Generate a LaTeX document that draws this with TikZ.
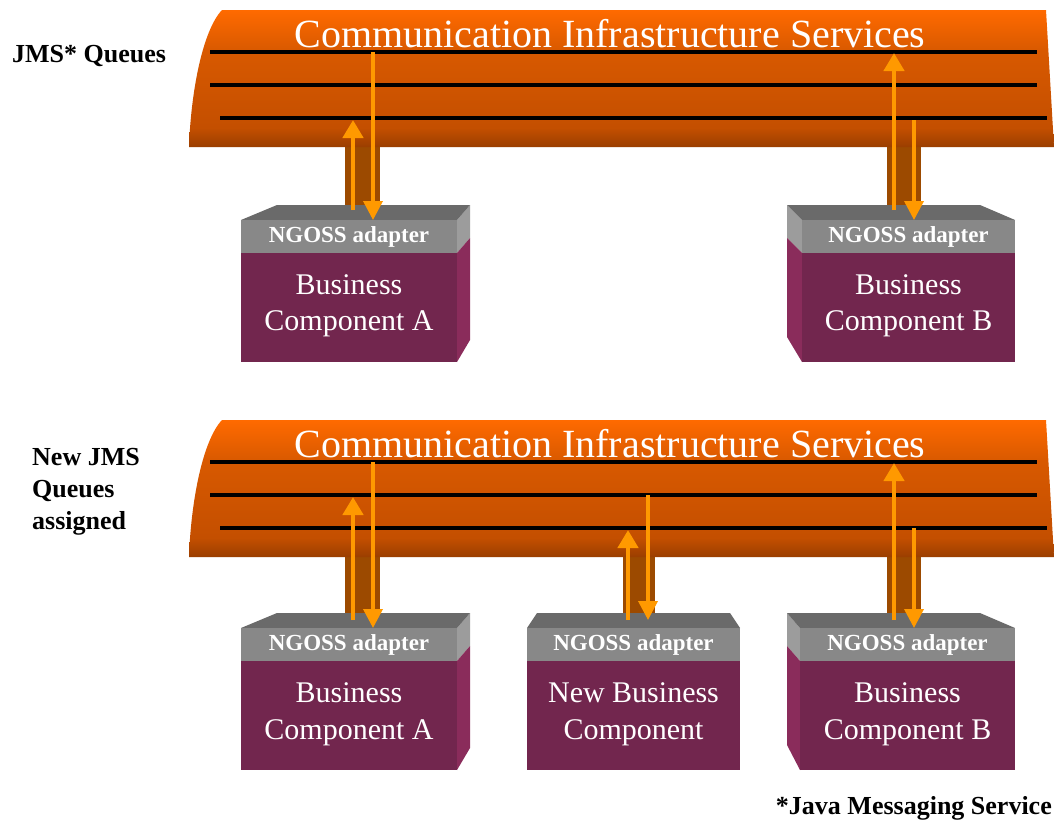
\documentclass[tikz,border=0pt]{standalone}
\usepackage{fontspec}
\setmainfont{Liberation Serif}
\usetikzlibrary{arrows.meta}

\definecolor{bustop}{HTML}{FF6A00}
\definecolor{busmid}{HTML}{D85900}
\definecolor{busdeep}{HTML}{C44F00}
\definecolor{busbot}{HTML}{9A3E00}
\definecolor{plum}{HTML}{72264E}
\definecolor{plumside}{HTML}{8A2C5B}
\definecolor{band}{HTML}{888888}
\definecolor{bandtop}{HTML}{6A6A6A}
\definecolor{bandside}{HTML}{9C9C9C}
\definecolor{flow}{HTML}{FF9900}
\definecolor{duct}{HTML}{9C4A00}

% vertical colour ramp of the service bus (25bp = bottom, 75bp = top)
\pgfdeclareverticalshading{busshade}{100bp}{%
  color(0bp)=(busbot); color(25bp)=(busbot); color(32bp)=(busdeep);
  color(60bp)=(busmid); color(75bp)=(bustop); color(100bp)=(bustop)}

\tikzset{
  queue/.style={line width=3.2pt, black},
  bustitle/.style={text=white, font=\fontsize{40}{44}\selectfont, anchor=base, inner sep=0pt},
  adaptertext/.style={text=white, font=\bfseries\fontsize{23}{26}\selectfont, inner sep=0pt},
  comptext/.style={text=white, font=\fontsize{30}{36.5}\selectfont, align=center, inner sep=0pt},
  sidelabel/.style={font=\bfseries\fontsize{26}{32}\selectfont, align=left, inner sep=0pt},
  ductfill/.style={fill=duct, draw=none},
  upflow/.style={draw=flow, line width=4.4pt, -{Triangle[width=20pt,length=18pt]}},
  downflow/.style={draw=flow, line width=3.6pt, -{Triangle[width=19pt,length=19pt]}},
}

% service bus: #1 vertical offset, #2 name
\newcommand\servicebus[2]{%
  \shade[shading=busshade]
    (189,{147+#1}) .. controls (191,{90+#1}) and (203,{30+#1}) .. (222,{10+#1})
    -- (1046,{10+#1}) -- (1054,{147+#1}) -- cycle;
  \draw[queue] (210,{52+#1}) -- (1037,{52+#1});
  \draw[queue] (210,{85+#1}) -- (1037,{85+#1});
  \draw[queue] (220,{118+#1}) -- (1047,{118+#1});
  \node[bustitle] (#2) at (610,{47+#1}) {Communication Infrastructure Services};
}

% component box front and top: #1 name, #2 left x, #3 right x, #4 front top y,
% #5 back-left offset, #6 back-right offset, #7 component text
\newcommand\component[7]{%
  \fill[bandtop] (#2,#4) -- ({#2+#5},{#4-15}) -- ({#3+#6},{#4-15}) -- (#3,#4) -- cycle;
  \fill[band] (#2,#4) rectangle (#3,{#4+33});
  \fill[plum] (#2,{#4+33}) rectangle (#3,{#4+142});
  \node[adaptertext] (#1-adapter) at ({(#2+#3)/2},{#4+17}) {NGOSS adapter};
  \node[comptext] (#1) at ({(#2+#3)/2},{#4+86}) {#7};
}
% visible side face: #1 front edge x, #2 back edge x, #3 front top y, #4 back bottom drop
\newcommand\sideface[4]{%
  \fill[bandside] (#1,#3) -- (#2,{#3-15}) -- (#2,{#3+18}) -- (#1,{#3+33}) -- cycle;
  \fill[plumside] (#1,{#3+33}) -- (#2,{#3+18}) -- (#2,{#3+#4}) -- (#1,{#3+142}) -- cycle;
}

\begin{document}
\begin{tikzpicture}[x=1pt,y=-1pt]
\useasboundingbox (0,0) rectangle (1054,822);
\fill[white] (0,0) rectangle (1054,822);

% ---------- ducts between bus and adapters ----------
\fill[ductfill] (345,140) rectangle (380,210);
\fill[ductfill] (887,140) rectangle (921,210);
\fill[ductfill] (345,550) rectangle (380,620);
\fill[ductfill] (623,550) rectangle (655,620);
\fill[ductfill] (887,550) rectangle (921,620);

% ---------- buses ----------
\servicebus{0}{busTop}
\servicebus{410}{busBottom}

% ---------- components, current set ----------
\sideface{457}{470}{220}{120}
\component{compA}{241}{457}{220}{36}{13}{Business\\Component A}
\sideface{802}{787}{220}{117}
\component{compB}{802}{1015}{220}{-15}{-35}{Business\\Component B}

% ---------- components, extended set ----------
\sideface{457}{470}{628}{120}
\component{compA2}{241}{457}{628}{36}{13}{Business\\Component A}
\component{compN}{527}{740}{628}{10}{-10}{New Business\\Component}
\sideface{800}{787}{628}{117}
\component{compB2}{800}{1015}{628}{-13}{-35}{Business\\Component B}

% ---------- queue end points ----------
\coordinate (aOutT) at (353,210);  \coordinate (aOutQ) at (353,120);
\coordinate (aInQ)  at (373,52);   \coordinate (aInT)  at (373,220);
\coordinate (bOutT) at (894,210);  \coordinate (bOutQ) at (894,53);
\coordinate (bInQ)  at (914,120);  \coordinate (bInT)  at (914,220);

\coordinate (a2OutT) at (353,620); \coordinate (a2OutQ) at (353,497);
\coordinate (a2InQ)  at (373,462); \coordinate (a2InT)  at (373,628);
\coordinate (nOutT)  at (628,620); \coordinate (nOutQ)  at (628,530);
\coordinate (nInQ)   at (648,495); \coordinate (nInT)   at (648,620);
\coordinate (b2OutT) at (894,620); \coordinate (b2OutQ) at (894,463);
\coordinate (b2InQ)  at (914,528); \coordinate (b2InT)  at (914,628);

% ---------- message flows ----------
\draw[upflow]   (aOutT) -- (aOutQ);
\draw[downflow] (aInQ) -- (aInT);
\draw[upflow]   (bOutT) -- (bOutQ);
\draw[downflow] (bInQ) -- (bInT);

\draw[upflow]   (a2OutT) -- (a2OutQ);
\draw[downflow] (a2InQ) -- (a2InT);
\draw[upflow]   (nOutT) -- (nOutQ);
\draw[downflow] (nInQ) -- (nInT);
\draw[upflow]   (b2OutT) -- (b2OutQ);
\draw[downflow] (b2InQ) -- (b2InT);

% ---------- labels ----------
\node[sidelabel, anchor=base west] (lblJMS) at (12,62) {JMS* Queues};
\node[sidelabel, anchor=north west] (lblNew) at (32,448) {New JMS\\Queues\\assigned};
\node[sidelabel, anchor=base east] (lblNote) at (1052,814) {*Java Messaging Service};
\end{tikzpicture}
\end{document}
